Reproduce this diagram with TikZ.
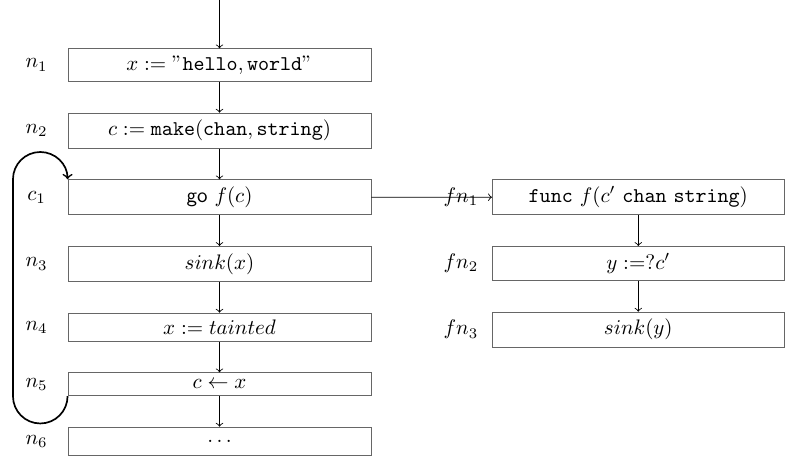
\documentclass[tikz,border=0pt]{standalone}
\usetikzlibrary{calc}
\begin{document}
\begin{tikzpicture}[x=0.4762pt, y=0.4762pt,
  stmt/.style={draw=black!60, line width=0.4pt, inner sep=3.333pt, minimum width=144.3pt, anchor=north},
  fstmt/.style={stmt, minimum width=139pt},
  lbl/.style={inner sep=0pt},
  flow/.style={->, line width=0.4pt},
  loop/.style={->, thick}]
\useasboundingbox (0,0) rectangle (785,-456);

% main routine
\node[stmt] (n1) at (219.5,-48.3)  {$x := "\mathtt{hello}, \mathtt{world}"$};
\node[stmt] (n2) at (219.5,-112.7) {$c := \mathtt{make}(\mathtt{chan}, \mathtt{string})$};
\node[stmt] (c1) at (219.5,-179.3) {\textsf{go}~$f(c)$};
\node[stmt] (n3) at (219.5,-246)   {$sink(x)$};
\node[stmt] (n4) at (219.5,-312.7) {$x := tainted$};
\node[stmt] (n5) at (219.5,-372.3) {$c \leftarrow x$};
\node[stmt, minimum height=13.3pt] (n6) at (219.5,-426.7) {$\ldots$};

% goroutine body
\node[fstmt] (fn1) at (638.3,-179.3) {$\mathtt{func}\ f(c'\ \mathtt{chan}\ \mathtt{string})$};
\node[fstmt] (fn2) at (638.3,-246)   {$y :=?c'$};
\node[fstmt] (fn3) at (638.3,-311.7) {$sink(y)$};

% statement labels
\foreach \n/\t in {n1/n_1, n2/n_2, c1/c_1, n3/n_3, n4/n_4, n5/n_5, n6/n_6,
                   fn1/fn_1, fn2/fn_2, fn3/fn_3}
  \node[lbl] (l\n) at ([xshift=-31*0.4762pt]\n.west) {$\t$};

% control flow
\coordinate (entry) at (219.5,0);
\draw[flow] (entry) -- (n1.north);
\draw[flow] (n1) -- (n2);
\draw[flow] (n2) -- (c1);
\draw[flow] (c1) -- (n3);
\draw[flow] (n3) -- (n4);
\draw[flow] (n4) -- (n5);
\draw[flow] (n5) -- (n6);
\draw[flow] (fn1) -- (fn2);
\draw[flow] (fn2) -- (fn3);
\draw[flow] (c1.east) -- (fn1.west);

% back edge of the loop
\draw[loop] (n5.south west) arc[start angle=0, end angle=-180, radius=13pt]
  -- ([xshift=-26pt]c1.north west)
  arc[start angle=180, end angle=0, radius=13pt];
\end{tikzpicture}
\end{document}
